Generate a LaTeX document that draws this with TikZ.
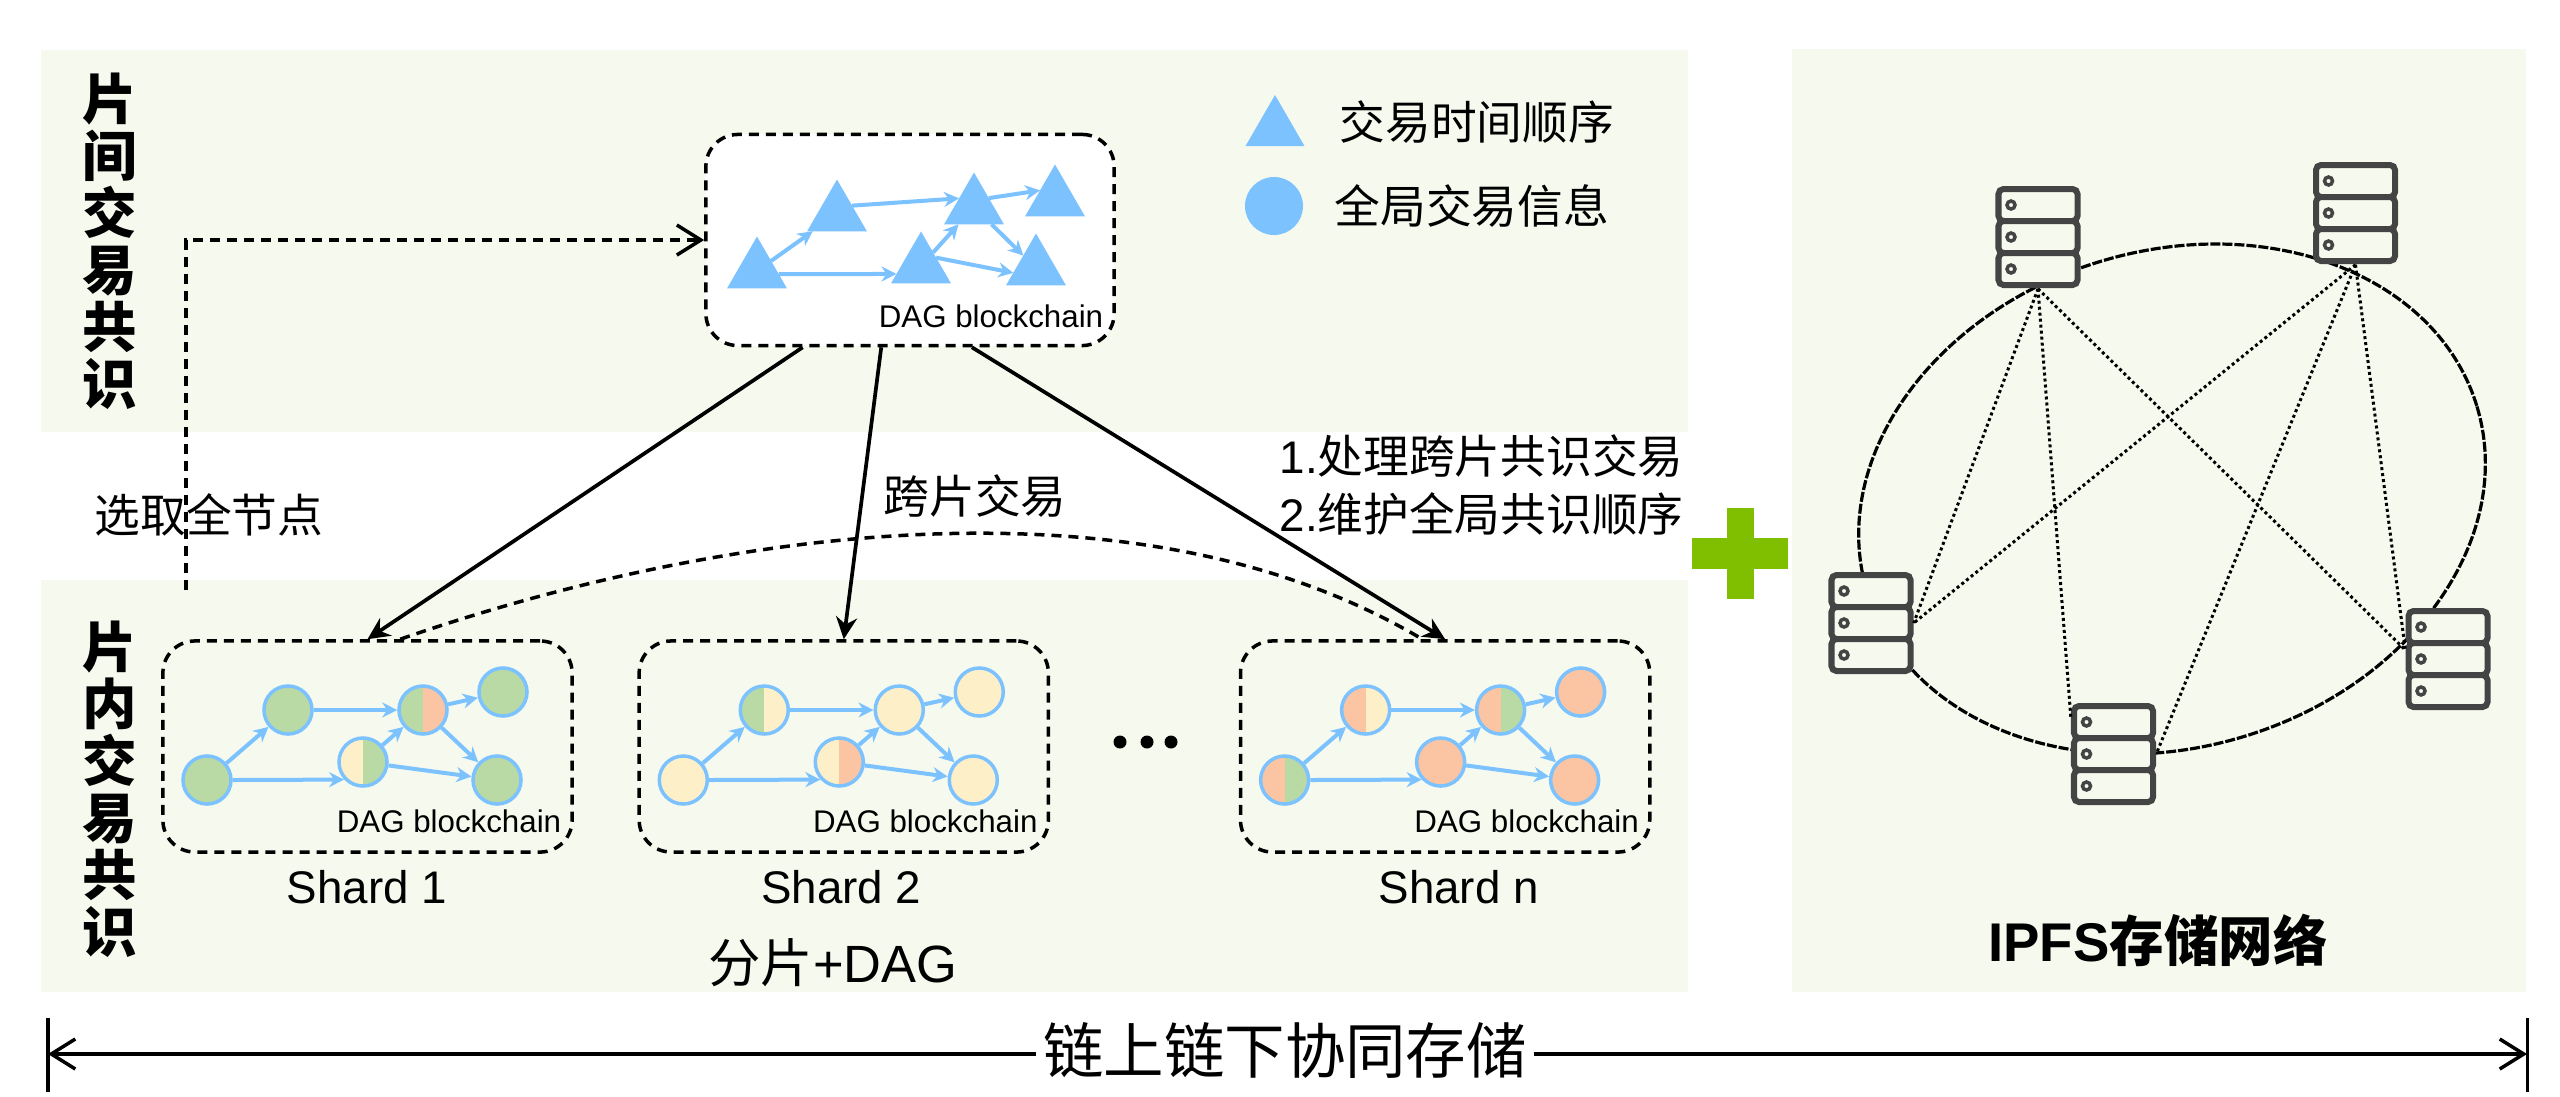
\documentclass[tikz,border=0pt]{standalone}
\usepackage{fontspec}
\setmainfont{Liberation Sans}
\newfontfamily\cjk{Noto Sans CJK SC}
\usetikzlibrary{arrows.meta}
\usetikzlibrary{shapes.geometric}
\definecolor{bandbg}{HTML}{F6FAEE}
\definecolor{dagblue}{HTML}{7CC2FF}
\definecolor{shgreen}{HTML}{B9D9A5}
\definecolor{shyellow}{HTML}{FDEFC8}
\definecolor{shorange}{HTML}{FBC4A2}
\definecolor{plusgreen}{HTML}{7FBF00}
\definecolor{servergray}{HTML}{444444}
\tikzset{
    band/.style={fill=bandbg, draw=none},
    dagbox/.style={draw, dashed, dash pattern=on 0.1cm off 0.07cm, line width=0.035cm, rounded corners=0.32cm, inner sep=0, minimum height=2.11cm},
    trinode/.style={regular polygon, regular polygon sides=3, fill=dagblue, draw=none, inner sep=0, outer sep=0, minimum size=0.69cm},
    halfnode/.style 2 args={circle, draw=dagblue, line width=0.035cm, inner sep=0, minimum size=0.48cm,
        path picture={
            \fill[#1] (path picture bounding box.south west) rectangle (path picture bounding box.north);
            \fill[#2] (path picture bounding box.south) rectangle (path picture bounding box.north east);
        }},
    dgg/.style={halfnode={shgreen}{shgreen}},
    dyy/.style={halfnode={shyellow}{shyellow}},
    doo/.style={halfnode={shorange}{shorange}},
    dgy/.style={halfnode={shgreen}{shyellow}},
    dyg/.style={halfnode={shyellow}{shgreen}},
    dgo/.style={halfnode={shgreen}{shorange}},
    dyo/.style={halfnode={shyellow}{shorange}},
    dog/.style={halfnode={shorange}{shgreen}},
    doy/.style={halfnode={shorange}{shyellow}},
    dagarrow/.style={-{Stealth[length=0.15cm,width=0.15cm]}, dagblue, line width=0.04cm},
    bigarrow/.style={-{Stealth[length=0.22cm,width=0.21cm]}, black, line width=0.037cm},
    dashline/.style={dashed, dash pattern=on 0.1cm off 0.07cm, line width=0.035cm},
    opentip/.style={-{Straight Barb[length=0.24cm,width=0.3cm]}},
    dagtext/.style={font=\fontsize{8.9}{10}\selectfont, inner sep=0},
    shardtext/.style={font=\fontsize{13}{14}\selectfont, inner sep=0},
    zhtext/.style={font=\cjk\fontsize{13}{15}\selectfont, inner sep=0},
    sidetext/.style={font=\cjk\bfseries\fontsize{15.5}{16.2}\selectfont, align=center, inner sep=0},
    servercell/.style={draw=servergray, fill=bandbg, line width=0.06cm, rounded corners=0.05cm, minimum width=0.79cm, minimum height=0.32cm, inner sep=0},
    serverdot/.style={circle, draw=servergray, line width=0.035cm, inner sep=0, minimum size=0.08cm},
    meshline/.style={dash pattern=on 0.03cm off 0.03cm, line width=0.03cm}
}

\begin{document}
\begin{tikzpicture}[x=0.01cm, y=-0.01cm]
    \useasboundingbox (0,0) rectangle (2560,1096);

    % Background bands
    \fill[band] (41,50) rectangle (1688,432);
    \fill[band] (41,580) rectangle (1688,992);
    \fill[band] (1792,49) rectangle (2526,992);

    \node[sidetext] (toplabel) at (110,241) {片\\间\\交\\易\\共\\识};
    \node[sidetext] (lowlabel) at (110,789) {片\\内\\交\\易\\共\\识};

    % Inter-shard DAG
    \node[dagbox, fill=white, minimum width=4.08cm] (topdag) at (910,240) {};
    \node[trinode] (t1) at (757,271) {};
    \node[trinode] (t2) at (837,214) {};
    \node[trinode] (t3) at (921,266) {};
    \node[trinode] (t4) at (974,207) {};
    \node[trinode] (t5) at (1055,199) {};
    \node[trinode] (t6) at (1036,268) {};
    \draw[dagarrow] (t1) -- (t2);
    \draw[dagarrow] (t1.-8) -- (t3.198);
    \draw[dagarrow] (t2.29) -- (t4.150);
    \draw[dagarrow] (t3) -- (t4);
    \draw[dagarrow] (t4.31) -- (t5.150);
    \draw[dagarrow] (t4) -- (t6);
    \draw[dagarrow] (t3.29) -- (t6.192);
    \node[dagtext] (toptext) at (991,316) {DAG blockchain};

    % Legend
    \node[trinode, minimum size=0.68cm] (legtri) at (1275,129) {};
    \node[circle, fill=dagblue, inner sep=0, minimum size=0.58cm] (legcirc) at (1274,206) {};
    \node[zhtext, anchor=west] (legtritext) at (1339,122) {交易时间顺序};
    \node[zhtext, anchor=west] (legcirctext) at (1334,206) {全局交易信息};

    % Shards
    \foreach \sname/\sx/\lx/\lab/\ca/\cb/\cc/\cd/\ce/\cf in {
        s1/0/367/Shard 1/dgg/dgg/dyg/dgo/dgg/dgg,
        s2/4.76/365/Shard 2/dyy/dgy/dyo/dyy/dyy/dyy,
        sn/10.77/381/Shard n/dog/doy/doo/dog/doo/doo}{
        \begin{scope}[xshift=\sx cm, name prefix=\sname-]
            \node[dagbox, minimum width=4.09cm] (box) at (367.5,746.5) {};
            \node[\ca] (a) at (207,780) {};
            \node[\cb] (b) at (288,710) {};
            \node[\cc] (c) at (363,762) {};
            \node[\cd] (d) at (423,710) {};
            \node[\ce] (e) at (503,692) {};
            \node[\cf] (f) at (497,780) {};
            \draw[dagarrow] (a) -- (b);
            \draw[dagarrow] (a.east) -- (c.223);
            \draw[dagarrow] (b.east) -- (d.west);
            \draw[dagarrow] (c) -- (d);
            \draw[dagarrow] (c) -- (f);
            \draw[dagarrow] (d) -- (e);
            \draw[dagarrow] (d) -- (f);
            \node[dagtext] (tag) at (449,821) {DAG blockchain};
            \node[shardtext] (name) at (\lx,887) {\lab};
        \end{scope}
    }
    \foreach \dx in {1120,1147,1171}
        \fill (\dx,742) circle [radius=6.5];
    \node[inner sep=0, font=\fontsize{14.9}{17}\selectfont] (sharddag) at (833,963) {{\cjk 分片}+DAG};

    % Links between the layers
    \draw[bigarrow] (topdag.-135) -- (s1-box.north);
    \draw[bigarrow] (topdag.-105) -- (s2-box.north);
    \draw[bigarrow] (topdag.-60) -- (sn-box.north);
    \draw[dashline] (s1-box.73) .. controls (700,535) and (1130,465) .. (sn-box.102);
    \coordinate (elbow) at (186,590);
    \draw[dashline, opentip] (elbow) |- (topdag.west);
    \node[zhtext] (picknode) at (209,515) {选取全节点};
    \node[zhtext] (crosstx) at (975,496) {跨片交易};
    \node[zhtext, anchor=west] (dutyone) at (1279,456) {{\fontspec{Liberation Sans}1.}处理跨片共识交易};
    \node[zhtext, anchor=west] (dutytwo) at (1279,514) {{\fontspec{Liberation Sans}2.}维护全局共识顺序};

    % Plus sign
    \fill[plusgreen] (1692,538) rectangle (1788,569);
    \fill[plusgreen] (1727,508) rectangle (1754,599);

    % IPFS network
    \node[draw, ellipse, rotate=17, dash pattern=on 0.1cm off 0.02cm, line width=0.032cm, minimum width=6.37cm, minimum height=4.96cm, inner sep=0] (ring) at (2172,499) {};
    \foreach \sname/\sx/\sy in {srvA/2038/237, srvB/2355.5/213, srvC/1871/623, srvD/2113.5/754, srvE/2448/659}{
        \node[inner sep=0, minimum width=0.84cm, minimum height=1.02cm] (\sname) at (\sx,\sy) {};
        \foreach \k in {-1,0,1}{
            \node[servercell] (\sname-cell\k) at (\sx,{\sy+\k*32}) {};
            \node[serverdot] (\sname-dot\k) at ({\sx-27},{\sy+\k*32}) {};
        }
    }
    \draw[meshline] (srvA.south) -- (srvC.east);
    \draw[meshline] (srvA.south) -- (srvD.139);
    \draw[meshline] (srvA.south) -- (srvE.168);
    \draw[meshline] (srvB.south) -- (srvC.east);
    \draw[meshline] (srvB.south) -- (srvD.east);
    \draw[meshline] (srvB.south) -- (srvE.168);
    \node[inner sep=0, font=\bfseries\fontsize{15.5}{18}\selectfont] (ipfslabel) at (2158,940) {IPFS{\cjk\bfseries 存储网络}};

    % Bottom span
    \node[font=\cjk\fontsize{17.2}{20}\selectfont, inner sep=0.06cm] (spanlabel) at (1285,1050) {链上链下协同存储};
    \coordinate (spanleft) at (48,1054);
    \coordinate (spanright) at (2527,1054);
    \draw[line width=0.03cm] (48,1018) -- (48,1092);
    \draw[line width=0.03cm] (2527,1018) -- (2527,1092);
    \draw[line width=0.035cm, opentip] (spanlabel.west |- spanleft) -- (spanleft);
    \draw[line width=0.035cm, opentip] (spanlabel.east |- spanright) -- (spanright);
\end{tikzpicture}
\end{document}
